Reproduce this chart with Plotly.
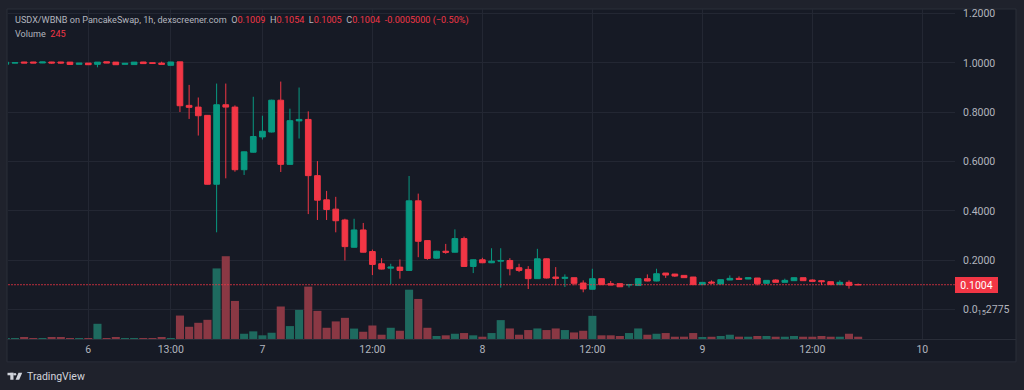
import plotly.graph_objects as go

# ---------------- data ----------------
bar_index = list(range(94))

open_ = [0.9950, 0.9995, 1.0040, 1.0040, 1.0000, 1.0040, 1.0040, 1.0035, 0.9945, 0.9995,
         0.9945, 1.0050, 1.0035, 0.9945, 0.9935, 1.0040, 1.0010, 0.9995, 0.9905, 1.0045,
         0.8280, 0.8210, 0.7875, 0.5080, 0.8306, 0.8210, 0.5670, 0.6380, 0.7000, 0.7200,
         0.8490, 0.5887, 0.7650, 0.7710, 0.5430, 0.4448, 0.4070, 0.3630, 0.2524, 0.3226,
         0.2350, 0.1855, 0.1677, 0.1718, 0.1585, 0.4407, 0.2794, 0.2080, 0.2363, 0.2323,
         0.2875, 0.1746, 0.2016, 0.1895, 0.1960, 0.1988, 0.1693, 0.1625, 0.1250, 0.2056,
         0.1316, 0.1262, 0.1289, 0.1074, 0.0819, 0.1249, 0.1047, 0.1047, 0.0990, 0.0970,
         0.1249, 0.1154, 0.1477, 0.1436, 0.1383, 0.1316, 0.1007, 0.1114, 0.1034, 0.1195,
         0.1262, 0.1235, 0.1276, 0.1060, 0.1195, 0.1101, 0.1168, 0.1289, 0.1195, 0.1168,
         0.1128, 0.1007, 0.1101, 0.1009]

high = [1.0035, 1.0015, 1.0045, 1.0045, 1.0045, 1.0045, 1.0045, 1.0040, 0.9998, 1.0000,
        1.0040, 1.0052, 1.0040, 0.9990, 1.0040, 1.0045, 1.0015, 1.0052, 1.0045, 1.0050,
        0.9110, 0.8600, 0.7890, 0.9165, 0.9165, 0.8280, 0.6410, 0.8630, 0.7860, 0.8510,
        0.9246, 0.8145, 0.9004, 0.8036, 0.6020, 0.4810, 0.4570, 0.3680, 0.3680, 0.3510,
        0.2430, 0.2080, 0.1855, 0.2030, 0.5415, 0.4700, 0.2810, 0.2380, 0.2660, 0.3250,
        0.2956, 0.2030, 0.2097, 0.2484, 0.2484, 0.2080, 0.1855, 0.1758, 0.2460, 0.2070,
        0.1719, 0.1423, 0.1295, 0.1181, 0.1652, 0.1260, 0.1154, 0.1050, 0.1030, 0.1260,
        0.1423, 0.1652, 0.1480, 0.1445, 0.1390, 0.1320, 0.1110, 0.1180, 0.1210, 0.1383,
        0.1343, 0.1295, 0.1280, 0.1190, 0.1222, 0.1249, 0.1300, 0.1290, 0.1222, 0.1195,
        0.1130, 0.1181, 0.1181, 0.1054]

low = [0.9945, 0.9990, 0.9995, 0.9995, 0.9995, 0.9975, 0.9975, 0.9935, 0.9940, 0.9925,
       0.9823, 0.9995, 0.9925, 0.9940, 0.9930, 0.9970, 0.9980, 0.9940, 0.9900, 0.8010,
       0.7730, 0.7056, 0.5070, 0.3130, 0.5320, 0.5590, 0.5456, 0.6360, 0.6895, 0.7180,
       0.5577, 0.5870, 0.6935, 0.3870, 0.3630, 0.3630, 0.3130, 0.1988, 0.2510, 0.2310,
       0.1395, 0.1620, 0.1020, 0.1250, 0.1570, 0.2120, 0.2016, 0.2060, 0.2258, 0.2310,
       0.1730, 0.1476, 0.1880, 0.1880, 0.0887, 0.1383, 0.1516, 0.0830, 0.1240, 0.1260,
       0.0980, 0.0913, 0.0980, 0.0698, 0.0810, 0.0990, 0.0985, 0.0910, 0.0890, 0.0960,
       0.1140, 0.1140, 0.1280, 0.1320, 0.1280, 0.0995, 0.1000, 0.1040, 0.1030, 0.1190,
       0.1220, 0.1230, 0.0980, 0.1050, 0.1100, 0.1100, 0.1160, 0.1160, 0.1140, 0.0993,
       0.1000, 0.1000, 0.0846, 0.1002]

close = [1.0030, 1.0010, 1.0000, 1.0000, 1.0040, 1.0000, 1.0000, 0.9940, 0.9995, 0.9930,
         1.0035, 1.0000, 0.9930, 0.9985, 1.0035, 0.9975, 0.9985, 0.9945, 1.0040, 0.8266,
         0.8200, 0.7860, 0.5080, 0.8306, 0.8210, 0.5670, 0.6395, 0.7016, 0.7230, 0.8490,
         0.5887, 0.7660, 0.7710, 0.5430, 0.4435, 0.4057, 0.3600, 0.2550, 0.3226, 0.2323,
         0.1827, 0.1637, 0.1718, 0.1585, 0.4407, 0.2766, 0.2069, 0.2363, 0.2323, 0.2875,
         0.1746, 0.2016, 0.1895, 0.1960, 0.1988, 0.1653, 0.1585, 0.1250, 0.2056, 0.1276,
         0.1262, 0.1302, 0.1060, 0.0833, 0.1249, 0.1007, 0.0993, 0.0920, 0.1010, 0.1249,
         0.1154, 0.1450, 0.1396, 0.1356, 0.1290, 0.1007, 0.1100, 0.1074, 0.1208, 0.1262,
         0.1222, 0.1289, 0.1047, 0.1181, 0.1101, 0.1181, 0.1289, 0.1168, 0.1141, 0.1128,
         0.1007, 0.1101, 0.0980, 0.1004]

volume = [105, 98, 110, 102, 95, 108, 112, 104, 99, 106,
          1630, 101, 109, 97, 103, 107, 100, 111, 96, 2513,
          1310, 1736, 2055, 7562, 8871, 4079, 564, 820, 394, 671,
          3483, 1385, 3120, 5613, 3014, 1203, 1885, 2268, 1118, 777,
          1448, 458, 1203, 884, 5282, 4292, 1203, 320, 394, 564,
          639, 394, 245, 639, 2024, 1129, 458, 959, 1129, 959,
          1129, 959, 703, 884, 2481, 394, 394, 320, 639, 1129,
          458, 564, 639, 245, 250, 639, 138, 240, 320, 458,
          250, 245, 320, 320, 245, 245, 320, 245, 245, 320,
          245, 245, 564, 245]

x_tick_index = [9, 18, 28, 40, 52, 64, 76, 88, 100]
x_tick_text = ["6", "13:00", "7", "12:00", "8", "12:00", "9", "12:00", "10"]

price_ticks = [0.0, 0.2, 0.4, 0.6, 0.8, 1.0, 1.2]
price_tick_text = ["0.0<sub>15</sub>2775", "0.2000", "0.4000", "0.6000", "0.8000", "1.0000", "1.2000"]

last_price = 0.1004
header_pair = "USDX/WBNB on PancakeSwap, 1h, dexscreener.com"
ohlc_last = {"O": "0.1009", "H": "0.1054", "L": "0.1005", "C": "0.1004"}
change_text = "-0.0005000 (\u22120.50%)"
last_volume = "245"

# ---------------- style / geometry ----------------
W, H = 1024, 390
ML, MR, MT, MB = 8, 69, 7, 51
PW = W - ML - MR
PH = H - MT - MB

def px_x(px):
    return (px - ML) / PW

def px_y(py):
    return (H - MB - py) / PH

UP = "#089981"
DOWN = "#f23645"
UP_VOL = "#1e6a5f"
DOWN_VOL = "#8a3844"
BG = "#161a25"
OUTER = "#1f222c"
GRID = "#232733"
BORDER = "#2a2e39"
TXT = "#b2b5be"
FONT = "Roboto"

vol_colors = [UP_VOL if c >= o else DOWN_VOL for o, c in zip(open_, close)]

fig = go.Figure()

fig.add_trace(go.Bar(
    x=bar_index, y=volume, yaxis="y2", marker_color=vol_colors,
    marker_line_width=0, width=0.88, hoverinfo="skip", showlegend=False,
))

fig.add_trace(go.Candlestick(
    x=bar_index, open=open_, high=high, low=low, close=close,
    increasing=dict(line=dict(color=UP, width=1), fillcolor=UP),
    decreasing=dict(line=dict(color=DOWN, width=1), fillcolor=DOWN),
    whiskerwidth=0, hoverinfo="skip", showlegend=False,
))

shapes = [
    # dark panel
    dict(type="rect", xref="paper", yref="paper", layer="below",
         x0=px_x(7), x1=px_x(1016), y0=px_y(362), y1=px_y(7),
         fillcolor=BG, line=dict(color=BORDER, width=1)),
    # time-axis separator
    dict(type="line", xref="paper", yref="paper", layer="above",
         x0=px_x(7), x1=px_x(1016), y0=px_y(339.5), y1=px_y(339.5),
         line=dict(color=BORDER, width=1)),
    # last price dotted line
    dict(type="line", xref="paper", yref="y", layer="above",
         x0=0, x1=1, y0=last_price, y1=last_price,
         line=dict(color="rgba(242,54,69,0.75)", width=1, dash="2px,1px")),
    # TradingView logo (approximate)
    dict(type="rect", xref="paper", yref="paper", layer="above",
         x0=px_x(7.5), x1=px_x(13.5), y0=px_y(375.5), y1=px_y(373),
         fillcolor="#d1d4dc", line=dict(width=0)),
    dict(type="rect", xref="paper", yref="paper", layer="above",
         x0=px_x(10.3), x1=px_x(13.5), y0=px_y(380), y1=px_y(373),
         fillcolor="#d1d4dc", line=dict(width=0)),
    dict(type="circle", xref="paper", yref="paper", layer="above",
         x0=px_x(13.8), x1=px_x(16.2), y0=px_y(375.6), y1=px_y(373.2),
         fillcolor="#d1d4dc", line=dict(width=0)),
    dict(type="path", xref="paper", yref="paper", layer="above",
         path="M {} {} L {} {} L {} {} L {} {} Z".format(
             px_x(18.5), px_y(373), px_x(22.2), px_y(373),
             px_x(19.2), px_y(380), px_x(15.6), px_y(380)),
         fillcolor="#d1d4dc", line=dict(width=0)),
]

red = lambda s: "<span style='color:%s'>%s</span>" % (DOWN, s)
sp = "\u00a0\u00a0"
line1 = (header_pair + sp + "O" + red(ohlc_last["O"]) + sp + "H" + red(ohlc_last["H"]) + sp +
         "L" + red(ohlc_last["L"]) + sp + "C" + red(ohlc_last["C"]) + sp + red(change_text))
line2 = "Volume" + sp + red(last_volume)

HF = 9.1
annotations = [
    dict(xref="paper", yref="paper", x=px_x(13), y=px_y(18.5), xanchor="left", yanchor="middle",
         text=line1, showarrow=False, font=dict(family=FONT, size=HF, color=TXT)),
    dict(xref="paper", yref="paper", x=px_x(13), y=px_y(32), xanchor="left", yanchor="middle",
         text=line2, showarrow=False, font=dict(family=FONT, size=HF, color=TXT)),
    dict(xref="paper", yref="y", x=1.0, y=last_price, xanchor="left", yanchor="middle",
         text="%.4f" % last_price, showarrow=False, bgcolor=DOWN, borderwidth=0, borderpad=2,
         width=39, height=12, align="center",
         font=dict(family=FONT, size=10.5, color="#ffffff")),
    dict(xref="paper", yref="paper", x=px_x(24.5), y=px_y(376.5), xanchor="left", yanchor="middle",
         text="TradingView", showarrow=False, font=dict(family=FONT, size=10.5, color="#d1d4dc")),
]

fig.update_layout(
    width=W, height=H,
    margin=dict(l=ML, r=MR, t=MT, b=MB, pad=0),
    paper_bgcolor=OUTER, plot_bgcolor="rgba(0,0,0,0)",
    font=dict(family=FONT, size=10.5, color=TXT),
    showlegend=False, hovermode=False,
    boxgap=0.38, boxgroupgap=0,
    xaxis=dict(
        range=[0.2385, 103.567], rangeslider=dict(visible=False),
        tickmode="array", tickvals=x_tick_index, ticktext=x_tick_text,
        showgrid=True, gridcolor=GRID, gridwidth=1, zeroline=False,
        showline=False, ticks="", ticklen=0, ticklabelstandoff=2,
        tickfont=dict(size=10.5, color=TXT), fixedrange=True,
    ),
    yaxis=dict(
        range=[-0.1198, 1.2190], side="right",
        tickmode="array", tickvals=price_ticks, ticktext=price_tick_text,
        showgrid=True, gridcolor=GRID, gridwidth=1, zeroline=False,
        showline=False, ticks="", ticklabelstandoff=7,
        tickfont=dict(size=10.5, color=TXT), fixedrange=True,
    ),
    yaxis2=dict(
        overlaying="y", range=[0, 35358], showgrid=False, showticklabels=False,
        zeroline=False, showline=False, fixedrange=True,
    ),
    shapes=shapes, annotations=annotations,
)

fig.write_html("out.html", config=dict(displayModeBar=False),
               post_script="document.body.style.margin='0';document.body.style.background='%s';" % OUTER)
